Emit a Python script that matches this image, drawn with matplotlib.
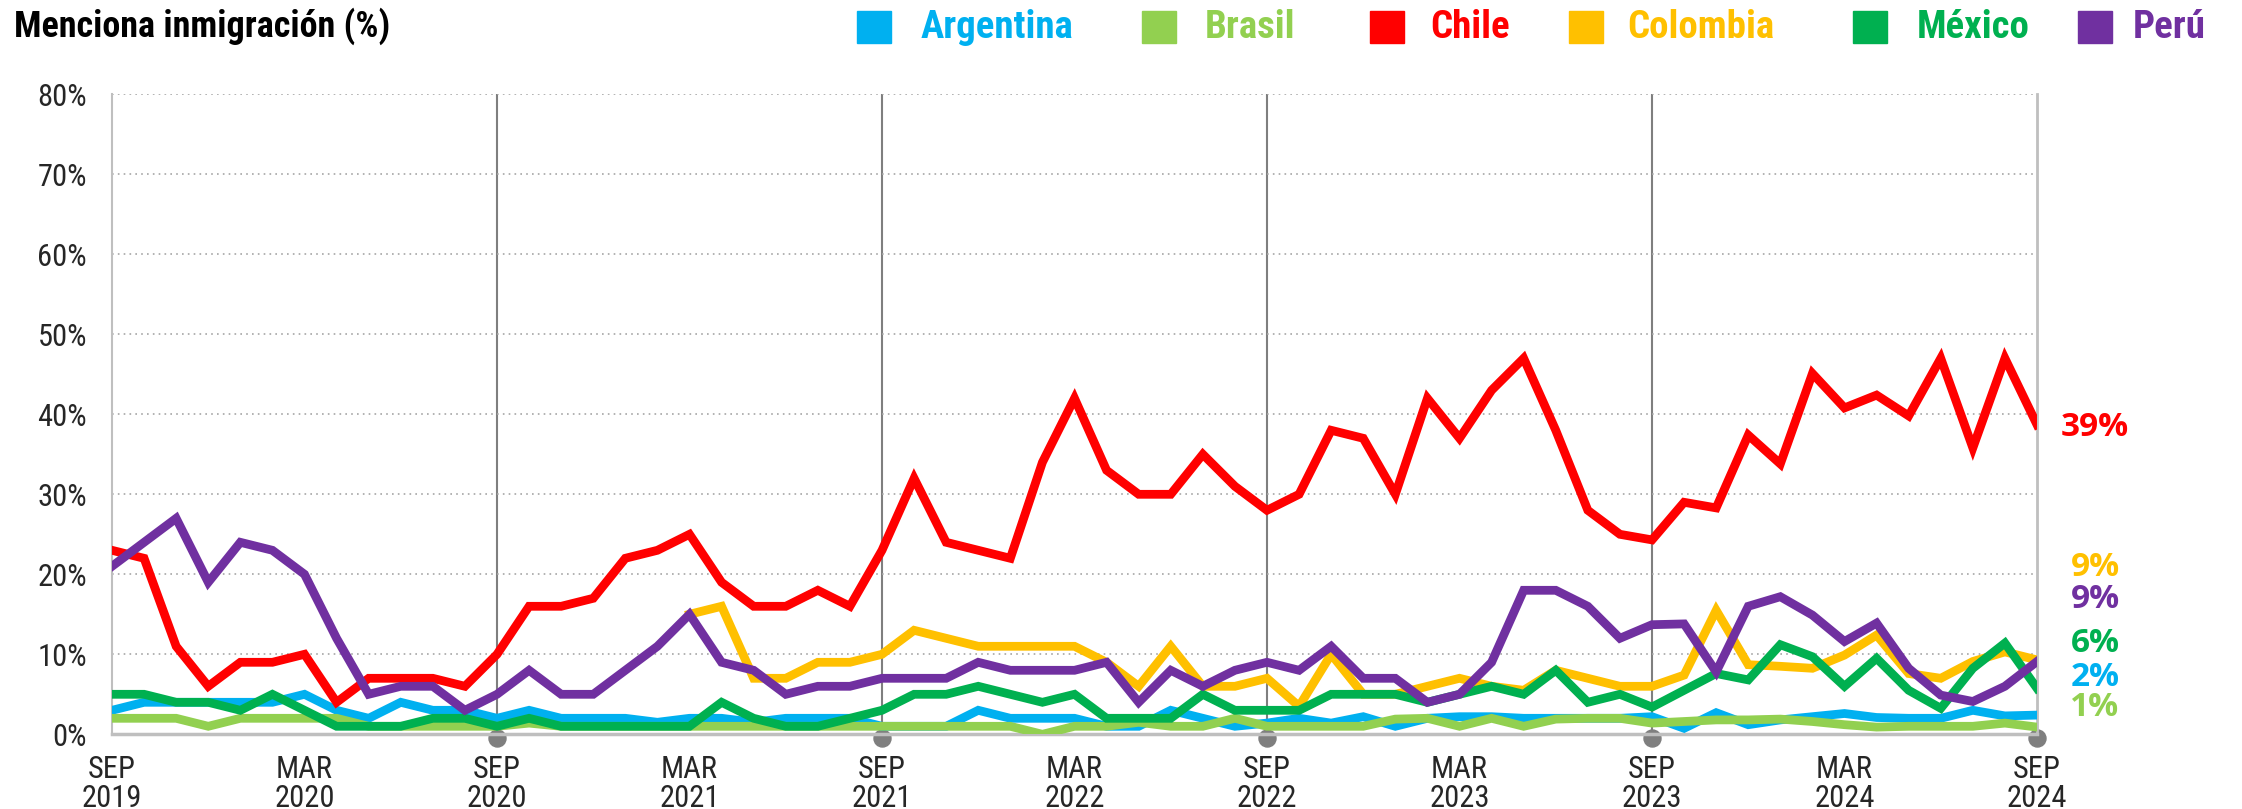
import numpy as np
import matplotlib.pyplot as plt
from matplotlib.patches import Rectangle

# monthly series, SEP 2019 .. SEP 2024 (61 points)
argentina = [3, 4, 4, 4, 4, 4, 5, 3, 2, 4, 3, 3,
             2, 3, 2, 2, 2, 1.5, 2, 2, 1.5, 2, 2, 2,
             1, 1, 1, 3, 2, 2, 2, 1, 1, 3, 2, 1,
             1.4, 2, 1.4, 2.2, 1, 2, 2.2, 2.2, 2, 2, 2, 2,
             2.2, 0.75, 2.7, 1.2, 1.8, 2.2, 2.6, 2.1, 2, 2, 3, 2.3,
             2.4]
brasil = [2, 2, 2, 1, 2, 2, 2, 2, 1, 1, 1, 1,
          1, 1.4, 1, 1, 1, 1, 1, 1, 1, 1, 1, 1,
          1, 1, 1, 1, 1, 0, 1, 1, 1.5, 1, 1, 2,
          1, 1, 1, 1, 1.9, 2, 1, 2, 1, 1.9, 2, 2,
          1.4, 1.6, 1.8, 1.8, 1.9, 1.6, 1.2, 0.9, 1, 1, 1, 1.4,
          0.9]
chile = [23, 22, 11, 6, 9, 9, 10, 4, 7, 7, 7, 6,
         10, 16, 16, 17, 22, 23, 25, 19, 16, 16, 18, 16,
         23, 32, 24, 23, 22, 34, 42, 33, 30, 30, 35, 31,
         28, 30, 38, 37, 30, 42, 37, 43, 47, 38, 28, 25,
         24.3, 29, 28.3, 37.4, 33.8, 45.1, 40.8, 42.4, 39.8, 47, 35.8, 47,
         38.7]
colombia = [np.nan] * 18 + [15, 16, 7, 7, 9, 9,
            10, 13, 12, 11, 11, 11, 11, 9, 6, 11, 6, 6,
            7, 3.5, 10, 5, 5, 6, 7, 6, 5.5, 8, 7, 6,
            6, 7.4, 15.5, 8.7, 8.5, 8.25, 9.9, 12.4, 7.6, 7, 9.1, 10.3,
            9.3]
mexico = [5, 5, 4, 4, 3, 5, 3, 1, 1, 1, 2, 2,
          1, 2, 1, 1, 1, 1, 1, 4, 2, 1, 1, 2,
          3, 5, 5, 6, 5, 4, 5, 2, 2, 2, 5, 3,
          3, 3, 5, 5, 5, 4, 5, 6, 5, 8, 4, 5,
          3.4, 5.5, 7.6, 6.8, 11.2, 9.7, 6, 9.5, 5.5, 3.25, 8.25, 11.4,
          5.75]
peru = [21, 24, 27, 19, 24, 23, 20, 12, 5, 6, 6, 3,
        5, 8, 5, 5, 8, 11, 15, 9, 8, 5, 6, 6,
        7, 7, 7, 9, 8, 8, 8, 9, 4, 8, 6, 8,
        9, 8, 11, 7, 7, 4, 5, 9, 18, 18, 16, 12,
        13.7, 13.8, 7.8, 16, 17.2, 14.9, 11.6, 13.9, 8.25, 4.9, 4.1, 6,
        9.1]

names = ['Argentina', 'Brasil', 'Chile', 'Colombia', 'México', 'Perú']
colors = ['#00B0F0', '#92D050', '#FF0000', '#FFC000', '#00B050', '#7030A0']
series = [argentina, brasil, chile, colombia, mexico, peru]

tick_months = list(range(0, 61, 6))
tick_labels = ['SEP\n2019', 'MAR\n2020', 'SEP\n2020', 'MAR\n2021', 'SEP\n2021',
               'MAR\n2022', 'SEP\n2022', 'MAR\n2023', 'SEP\n2023', 'MAR\n2024',
               'SEP\n2024']

narrow = ['Roboto Condensed', 'IBM Plex Sans Condensed', 'DejaVu Sans']

W, H = 2242, 809
fig = plt.figure(figsize=(W / 100, H / 100), dpi=100)
ax = fig.add_axes([112 / W, 1 - 734.3 / H, (2037 - 112) / W, 640 / H])

x = np.arange(61)
for vals, c in zip(series, colors):
    ax.plot(x, vals, color=c, lw=6.3, solid_joinstyle='miter', zorder=3)

ax.set_xlim(0, 60)
ax.set_ylim(0, 80)
ax.set_yticks(range(0, 90, 10))
ax.set_yticklabels([f'{v}%' for v in range(0, 90, 10)],
                   family=narrow, fontsize=22, color='#262626')
ax.set_xticks(tick_months)
ax.set_xticklabels(tick_labels, family=narrow, fontsize=22,
                   color='#262626', linespacing=1.0)
ax.tick_params(axis='y', length=0, pad=18)
ax.tick_params(axis='x', length=0, pad=15)

ax.yaxis.grid(True, linestyle=(0, (1, 2.5)), color='#A6A6A6', lw=1.2, zorder=0)
ax.vlines([12, 24, 36, 48], 0, 80, color='#7F7F7F', lw=1.5, zorder=1)
ax.scatter([12, 24, 36, 48, 60], [-0.4] * 5, s=150, color='#7F7F7F',
           clip_on=False, zorder=0)
for side in ['left', 'right', 'bottom']:
    ax.spines[side].set_color('#BFBFBF')
ax.spines['left'].set_linewidth(1.5)
ax.spines['right'].set_linewidth(2)
ax.spines['bottom'].set_linewidth(2.5)
ax.spines['top'].set_visible(False)

# title and legend
fig.text(14 / W, 1 - 26 / H, 'Menciona inmigración (%)', family=narrow,
         fontweight='bold', fontsize=26, va='center', ha='left')
sq_x = [857, 1142, 1370, 1569, 1853, 2078]
txt_x = [921, 1205, 1430, 1627, 1917, 2133]
for n, c, sx, tx in zip(names, colors, sq_x, txt_x):
    fig.patches.append(Rectangle((sx / W, 1 - 43 / H), 34 / W, 32 / H,
                                 transform=fig.transFigure, color=c))
    fig.text(tx / W, 1 - 27 / H, n, color=c, family=narrow,
             fontweight='bold', fontsize=28, va='center', ha='left')

# end labels
end_y = [677, 708, 427, 567, 643, 600]
for vals, c, y in zip(series, colors, end_y):
    fig.text(2095 / W, 1 - y / H, f'{round(vals[-1])}%', color=c, family=['Open Sans', 'DejaVu Sans'],
             fontweight='bold', fontsize=24, va='center', ha='center')

fig.savefig('out.png', dpi=100)
